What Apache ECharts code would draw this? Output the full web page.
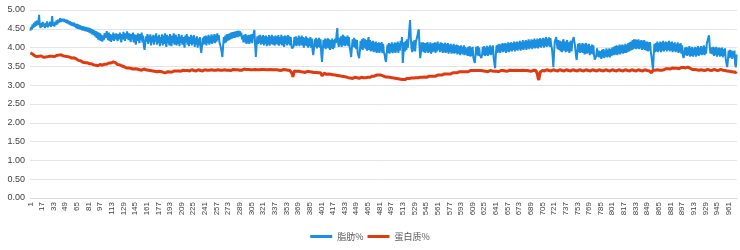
<!DOCTYPE html>
<html><head><meta charset="utf-8">
<script src="https://cdn.jsdelivr.net/npm/echarts@6/dist/echarts.min.js"></script>
<style>html,body{margin:0;padding:0;background:#fff}#c{width:740px;height:250px}</style>
</head><body><div id="c"></div>
<script>
const categories = Array.from({length: 972}, (_, i) => String(i + 1));
const yTicks = ['0.00','0.50','1.00','1.50','2.00','2.50','3.00','3.50','4.00','4.50','5.00'];
const seriesNames = ['脂肪%', '蛋白质%'];
const fat = [
4.45,4.55,4.48,4.62,4.52,4.66,4.55,4.70,4.58,4.72,4.60,4.68,4.87,4.60,4.52,4.65,4.55,4.68,4.57,4.64,
4.52,4.66,4.55,4.70,4.54,4.64,4.58,4.69,4.55,4.62,4.84,4.58,4.66,4.56,4.68,4.60,4.72,4.62,4.74,4.66,
4.72,4.78,4.68,4.76,4.79,4.70,4.77,4.68,4.75,4.66,4.74,4.64,4.72,4.62,4.70,4.60,4.68,4.58,4.67,4.57,
4.66,4.55,4.64,4.52,4.63,4.50,4.62,4.49,4.60,4.48,4.58,4.46,4.57,4.45,4.56,4.44,4.55,4.43,4.54,4.42,
4.53,4.40,4.52,4.38,4.50,4.35,4.48,4.33,4.46,4.30,4.44,4.26,4.42,4.22,4.40,4.20,4.38,4.18,4.34,4.16,
4.32,4.20,4.38,4.42,4.26,4.44,4.30,4.20,4.40,4.18,4.36,4.15,4.34,4.20,4.40,4.18,4.36,4.22,4.38,4.24,
4.18,4.36,4.22,4.40,4.25,4.14,4.36,4.22,4.42,4.26,4.18,4.38,4.24,4.43,4.28,4.20,4.38,4.26,4.15,4.36,
4.22,4.40,4.14,4.35,4.20,4.08,4.34,4.18,4.38,4.22,4.12,4.36,4.20,4.40,4.14,4.32,4.05,3.94,4.12,4.30,
4.16,4.36,4.10,4.32,4.14,4.35,4.06,4.30,4.14,4.34,4.08,4.32,4.16,4.38,4.08,4.30,4.12,4.34,4.04,4.28,
4.12,4.35,4.06,4.32,4.10,4.38,4.16,4.02,4.34,4.12,4.30,4.06,4.36,4.14,4.04,4.32,4.12,4.38,4.08,4.28,
4.34,4.06,4.28,4.10,4.36,4.04,4.30,4.12,4.34,4.08,4.28,4.12,4.00,4.32,4.14,4.36,4.08,4.30,4.04,4.28,
4.10,4.34,4.06,4.30,4.10,4.33,4.02,4.26,4.08,4.30,4.00,4.24,4.06,4.28,3.98,3.86,4.04,4.26,4.08,4.30,
4.10,4.32,4.06,4.30,4.12,4.34,4.08,4.30,4.12,4.35,4.10,4.32,4.14,4.36,4.12,4.34,4.16,4.38,4.20,4.33,
4.14,4.08,3.98,3.88,3.75,4.04,4.28,4.12,4.32,4.14,4.35,4.18,4.36,4.20,4.38,4.22,4.40,4.24,4.41,4.26,
4.42,4.26,4.43,4.28,4.44,4.28,4.45,4.30,4.44,4.30,4.40,4.22,4.32,4.14,4.34,4.14,4.36,4.10,4.32,4.12,
4.34,4.10,4.33,4.14,4.36,4.12,4.32,4.38,4.47,4.08,3.75,4.05,4.30,4.10,4.32,4.12,4.34,4.08,4.30,4.10,
4.33,4.06,4.30,4.10,4.32,4.04,4.28,4.08,4.33,4.05,4.30,4.10,4.34,4.08,4.30,4.12,4.06,4.32,4.10,4.30,
4.08,4.33,4.05,4.28,4.10,4.34,4.06,4.30,4.10,4.02,4.32,4.10,4.30,4.06,4.33,4.10,4.30,4.06,4.28,4.04,
3.98,3.94,4.04,4.28,4.06,4.30,4.04,4.26,4.08,4.32,4.04,4.28,4.08,4.32,4.05,4.28,4.00,4.26,4.06,4.30,
4.04,4.26,4.00,4.24,4.04,4.28,4.00,4.24,3.92,3.80,4.00,4.22,4.02,4.26,3.98,4.22,4.02,4.26,4.00,4.22,
3.82,3.62,3.94,4.20,4.00,4.24,3.96,4.22,4.00,4.25,3.98,4.22,3.94,4.20,3.98,4.24,3.96,4.20,4.00,4.24,
4.12,4.36,4.52,4.14,4.02,4.26,4.06,4.30,4.02,4.28,4.34,4.06,4.30,4.04,4.28,4.08,4.32,4.04,4.28,4.02,
3.90,3.75,3.98,4.22,4.02,4.26,4.00,4.22,3.96,4.20,3.86,3.82,3.72,3.90,4.18,3.96,4.22,3.94,4.25,4.00,
4.22,3.96,4.20,3.92,4.18,4.28,3.94,4.20,3.90,4.16,3.92,4.18,3.88,4.14,3.90,4.16,3.86,4.12,3.88,4.14,
3.86,4.12,3.90,4.15,3.85,4.10,3.88,3.82,3.68,3.62,3.86,4.08,3.86,4.12,3.84,4.10,3.88,4.14,3.85,4.10,
3.88,4.14,3.86,4.12,3.90,4.16,3.86,4.12,3.92,4.18,4.08,4.28,3.59,3.86,4.14,3.90,4.18,3.94,4.22,4.00,
4.24,4.48,4.73,4.26,3.98,3.88,4.16,3.92,4.20,3.90,4.14,4.22,4.30,4.42,4.49,4.04,3.72,3.88,4.14,3.90,
4.14,3.88,4.12,3.86,4.12,3.90,4.15,3.86,4.10,3.88,4.14,3.84,4.10,3.88,4.12,3.90,4.14,3.86,4.12,3.90,
4.16,3.94,4.10,3.88,4.14,3.90,4.12,3.86,4.10,3.88,4.13,3.86,4.10,3.88,4.12,3.84,4.08,3.88,4.10,3.84,
4.06,3.86,4.10,3.84,4.06,3.86,4.08,3.82,4.06,3.84,4.04,3.80,4.06,3.84,4.02,3.82,4.06,3.80,4.02,3.82,
3.98,3.78,4.02,3.78,4.04,3.76,4.00,3.78,4.02,3.74,3.70,3.59,3.80,4.02,3.80,4.04,3.78,4.00,3.80,3.76,
3.72,3.80,4.02,3.80,4.04,3.78,4.00,3.80,4.05,3.78,4.02,3.82,4.06,3.80,4.03,3.82,4.06,3.72,3.58,3.45,
3.84,4.06,3.86,4.08,3.88,4.10,3.86,4.08,3.90,4.12,3.88,4.10,3.90,4.12,3.86,4.10,3.90,4.14,3.88,4.12,
3.92,4.14,3.90,4.12,3.94,4.16,3.90,4.14,3.94,4.16,3.92,4.14,3.96,4.18,3.92,4.15,3.96,4.20,3.94,4.16,
3.98,4.20,3.94,4.18,3.98,4.22,3.96,4.18,4.00,4.22,3.96,4.20,4.00,4.24,3.98,4.20,4.00,4.24,3.98,4.22,
4.02,4.25,4.00,4.22,4.04,4.26,4.00,4.24,4.04,4.28,4.02,4.24,4.06,4.27,4.02,4.25,4.08,3.98,3.78,3.48,
3.86,4.16,4.22,4.28,4.08,3.96,4.20,3.94,4.18,3.90,4.16,3.88,4.14,4.22,3.92,4.16,3.88,4.12,4.20,3.90,
4.14,3.86,4.12,4.18,3.90,4.14,4.22,4.28,4.33,4.02,3.82,3.67,3.86,4.10,3.88,4.12,3.86,4.08,3.88,4.12,
3.86,4.10,3.82,4.06,4.12,3.84,4.08,3.86,4.10,3.80,4.04,3.84,4.08,3.82,4.06,3.80,3.68,3.67,3.78,3.98,
3.76,3.92,3.74,3.90,3.82,3.70,3.94,3.74,3.96,3.72,3.92,3.76,3.98,3.74,3.94,3.76,3.98,3.74,3.96,3.78,
4.00,3.80,4.02,3.80,4.04,3.82,4.06,3.80,4.04,3.84,4.08,3.82,4.06,3.86,4.08,3.84,4.06,3.86,4.10,3.86,
4.08,3.88,4.12,3.90,4.14,3.92,4.16,3.94,4.20,3.96,4.22,3.98,4.22,3.96,4.20,3.98,4.22,3.96,4.18,3.98,
4.20,3.94,4.18,3.96,4.20,3.94,4.16,3.92,4.16,3.90,4.14,3.92,4.15,3.88,3.76,3.58,3.40,3.80,4.10,3.88,
4.12,3.90,4.16,3.88,4.12,3.92,4.16,3.88,4.14,3.92,4.18,3.90,4.14,3.94,4.16,3.90,4.14,3.94,4.18,3.90,
4.14,3.92,4.16,3.88,4.12,3.92,4.14,3.88,4.10,3.90,4.14,3.86,4.10,3.88,4.12,3.84,4.06,3.80,3.72,3.80,
4.00,3.80,4.02,3.78,4.00,3.80,4.04,3.76,4.00,3.78,4.02,3.76,3.98,3.80,4.02,3.76,4.00,3.80,4.04,3.78,
4.00,3.82,4.04,3.80,4.02,3.82,4.06,3.80,4.02,3.84,4.10,4.18,4.26,4.33,4.04,3.84,3.80,4.00,3.82,4.02,
3.78,4.00,3.80,4.02,3.76,3.98,3.80,4.00,3.76,3.98,3.78,4.00,3.74,3.96,3.78,3.98,3.70,3.58,3.48,3.66,
3.92,3.72,3.94,3.74,3.92,3.70,3.90,3.74,3.92,3.55,3.48,3.82
];
const protein = [
3.86,3.84,3.82,3.83,3.80,3.79,3.78,3.80,3.77,3.76,3.78,3.75,3.77,3.74,3.76,3.78,3.75,3.77,3.74,3.76,
3.78,3.75,3.77,3.74,3.76,3.78,3.75,3.77,3.76,3.74,3.77,3.75,3.78,3.76,3.74,3.77,3.79,3.76,3.78,3.80,
3.77,3.79,3.81,3.78,3.80,3.78,3.76,3.79,3.77,3.75,3.78,3.76,3.74,3.77,3.75,3.73,3.75,3.72,3.74,3.72,
3.73,3.71,3.72,3.70,3.68,3.69,3.66,3.67,3.64,3.65,3.63,3.64,3.61,3.63,3.62,3.60,3.61,3.59,3.60,3.58,
3.59,3.57,3.58,3.56,3.57,3.55,3.56,3.54,3.56,3.55,3.53,3.55,3.54,3.52,3.54,3.53,3.55,3.52,3.54,3.53,
3.55,3.54,3.56,3.55,3.57,3.56,3.58,3.57,3.59,3.58,3.60,3.59,3.61,3.60,3.62,3.61,3.63,3.60,3.58,3.57,
3.55,3.56,3.53,3.54,3.52,3.50,3.51,3.49,3.48,3.49,3.47,3.48,3.46,3.47,3.45,3.46,3.44,3.46,3.45,3.44,
3.45,3.43,3.44,3.42,3.44,3.43,3.41,3.43,3.42,3.44,3.41,3.43,3.42,3.40,3.42,3.41,3.43,3.40,3.42,3.41,
3.39,3.41,3.40,3.38,3.40,3.39,3.37,3.39,3.38,3.36,3.38,3.37,3.35,3.37,3.36,3.38,3.35,3.37,3.36,3.34,
3.36,3.35,3.37,3.34,3.36,3.35,3.33,3.35,3.34,3.36,3.35,3.33,3.35,3.34,3.36,3.35,3.37,3.36,3.38,3.37,
3.36,3.38,3.37,3.39,3.38,3.36,3.38,3.37,3.39,3.38,3.40,3.38,3.37,3.39,3.38,3.40,3.39,3.37,3.39,3.38,
3.40,3.39,3.41,3.38,3.40,3.39,3.41,3.40,3.38,3.40,3.39,3.41,3.40,3.42,3.39,3.41,3.40,3.38,3.40,3.39,
3.41,3.40,3.38,3.40,3.39,3.41,3.40,3.42,3.39,3.41,3.40,3.38,3.40,3.39,3.41,3.40,3.42,3.39,3.41,3.40,
3.38,3.40,3.39,3.41,3.40,3.42,3.39,3.41,3.40,3.38,3.40,3.39,3.41,3.40,3.42,3.40,3.39,3.41,3.40,3.42,
3.41,3.39,3.41,3.40,3.42,3.41,3.39,3.41,3.40,3.42,3.41,3.40,3.42,3.41,3.43,3.41,3.40,3.42,3.41,3.40,
3.42,3.41,3.39,3.41,3.40,3.42,3.41,3.43,3.40,3.42,3.41,3.39,3.41,3.40,3.42,3.41,3.43,3.40,3.42,3.41,
3.40,3.42,3.41,3.39,3.41,3.40,3.42,3.41,3.43,3.40,3.42,3.41,3.39,3.41,3.40,3.42,3.41,3.40,3.42,3.41,
3.39,3.41,3.40,3.42,3.41,3.39,3.41,3.40,3.42,3.40,3.39,3.41,3.40,3.38,3.40,3.39,3.41,3.39,3.38,3.36,
3.30,3.22,3.32,3.38,3.37,3.39,3.37,3.36,3.38,3.37,3.35,3.37,3.36,3.38,3.36,3.35,3.37,3.36,3.34,3.36,
3.35,3.37,3.35,3.34,3.36,3.35,3.33,3.35,3.34,3.36,3.34,3.33,3.35,3.34,3.36,3.35,3.33,3.35,3.34,3.33,
3.30,3.25,3.20,3.28,3.32,3.30,3.31,3.29,3.30,3.28,3.30,3.29,3.27,3.29,3.28,3.26,3.28,3.27,3.25,3.27,
3.26,3.24,3.26,3.25,3.23,3.25,3.24,3.22,3.24,3.23,3.21,3.23,3.22,3.20,3.22,3.21,3.23,3.20,3.22,3.21,
3.19,3.21,3.20,3.18,3.20,3.19,3.21,3.20,3.18,3.20,3.19,3.21,3.18,3.20,3.19,3.21,3.20,3.18,3.20,3.19,
3.21,3.20,3.22,3.19,3.21,3.20,3.22,3.21,3.23,3.22,3.24,3.23,3.25,3.24,3.26,3.25,3.27,3.26,3.25,3.27,
3.26,3.25,3.27,3.26,3.24,3.25,3.23,3.24,3.22,3.23,3.21,3.22,3.20,3.22,3.21,3.19,3.21,3.20,3.18,3.20,
3.19,3.17,3.19,3.18,3.16,3.18,3.17,3.15,3.17,3.16,3.14,3.16,3.15,3.17,3.16,3.15,3.17,3.16,3.18,3.17,
3.19,3.18,3.20,3.17,3.19,3.18,3.20,3.19,3.21,3.18,3.20,3.19,3.21,3.20,3.22,3.19,3.21,3.20,3.22,3.21,
3.23,3.21,3.22,3.20,3.22,3.21,3.23,3.22,3.24,3.23,3.22,3.24,3.23,3.25,3.24,3.26,3.25,3.24,3.26,3.25,
3.27,3.26,3.28,3.27,3.26,3.28,3.27,3.29,3.28,3.30,3.29,3.28,3.30,3.29,3.31,3.30,3.32,3.31,3.30,3.32,
3.31,3.33,3.32,3.34,3.33,3.32,3.34,3.33,3.35,3.34,3.36,3.35,3.34,3.36,3.35,3.37,3.36,3.35,3.37,3.36,
3.38,3.37,3.36,3.38,3.37,3.39,3.38,3.37,3.39,3.38,3.40,3.39,3.38,3.40,3.39,3.41,3.40,3.39,3.41,3.40,
3.39,3.41,3.40,3.38,3.40,3.39,3.37,3.39,3.38,3.36,3.38,3.37,3.39,3.38,3.36,3.38,3.37,3.35,3.37,3.36,
3.38,3.37,3.39,3.38,3.36,3.38,3.37,3.39,3.38,3.40,3.39,3.37,3.39,3.38,3.40,3.39,3.37,3.39,3.38,3.40,
3.39,3.37,3.39,3.38,3.40,3.39,3.41,3.38,3.40,3.39,3.37,3.39,3.38,3.40,3.39,3.41,3.38,3.40,3.39,3.37,
3.39,3.38,3.40,3.39,3.37,3.39,3.38,3.40,3.38,3.37,3.39,3.38,3.40,3.39,3.37,3.39,3.38,3.30,3.20,3.14,
3.25,3.35,3.38,3.40,3.39,3.37,3.39,3.38,3.40,3.39,3.41,3.38,3.40,3.39,3.37,3.39,3.38,3.40,3.39,3.41,
3.38,3.40,3.39,3.41,3.40,3.38,3.40,3.39,3.41,3.40,3.42,3.39,3.41,3.40,3.38,3.40,3.39,3.41,3.40,3.42,
3.39,3.41,3.40,3.38,3.40,3.39,3.41,3.40,3.42,3.39,3.41,3.40,3.38,3.40,3.39,3.41,3.40,3.42,3.39,3.41,
3.40,3.38,3.40,3.39,3.41,3.40,3.42,3.39,3.41,3.40,3.38,3.40,3.39,3.41,3.40,3.42,3.39,3.41,3.40,3.38,
3.40,3.39,3.41,3.40,3.42,3.39,3.41,3.40,3.38,3.40,3.39,3.41,3.40,3.42,3.39,3.41,3.40,3.38,3.40,3.39,
3.41,3.40,3.42,3.39,3.41,3.40,3.38,3.40,3.39,3.41,3.40,3.42,3.39,3.41,3.40,3.38,3.40,3.39,3.41,3.40,
3.42,3.39,3.41,3.40,3.38,3.40,3.39,3.41,3.40,3.42,3.39,3.41,3.40,3.38,3.40,3.39,3.41,3.40,3.42,3.39,
3.41,3.40,3.38,3.40,3.39,3.41,3.40,3.42,3.39,3.41,3.40,3.38,3.40,3.36,3.33,3.38,3.40,3.39,3.41,3.40,
3.42,3.39,3.41,3.40,3.38,3.40,3.39,3.41,3.40,3.42,3.39,3.41,3.43,3.42,3.44,3.43,3.45,3.44,3.42,3.44,
3.43,3.45,3.44,3.46,3.45,3.43,3.45,3.44,3.46,3.45,3.47,3.46,3.44,3.46,3.45,3.47,3.46,3.48,3.47,3.45,
3.47,3.46,3.48,3.47,3.48,3.46,3.44,3.45,3.43,3.44,3.42,3.43,3.41,3.42,3.40,3.42,3.41,3.39,3.41,3.40,
3.42,3.40,3.41,3.39,3.41,3.40,3.42,3.41,3.39,3.41,3.40,3.42,3.41,3.43,3.40,3.42,3.41,3.39,3.41,3.40,
3.42,3.41,3.43,3.40,3.42,3.41,3.39,3.41,3.40,3.42,3.41,3.43,3.40,3.42,3.41,3.39,3.41,3.40,3.38,3.40,
3.39,3.37,3.39,3.38,3.36,3.38,3.37,3.35,3.37,3.36,3.34,3.36
];
const chart = echarts.init(document.getElementById('c'), null, {renderer: 'canvas'});
chart.setOption({
  animation: false,
  backgroundColor: '#fff',
  grid: {left: 30, right: 3, top: 10, bottom: 52},
  legend: {
    bottom: 4, left: 'center', itemGap: 4, itemWidth: 22, itemHeight: 3,
    icon: 'rect',
    textStyle: {fontSize: 9, color: '#595959', fontFamily: 'Noto Sans CJK SC'},
    data: seriesNames
  },
  xAxis: {
    type: 'category', data: categories, boundaryGap: true,
    axisLine: {lineStyle: {color: '#d9d9d9'}},
    axisTick: {show: false},
    axisLabel: {interval: 15, rotate: 90, fontSize: 8, color: '#404040', margin: 4, fontFamily: 'Liberation Sans'}
  },
  yAxis: {
    type: 'value', min: 0, max: 5, interval: 0.5,
    axisLine: {show: false}, axisTick: {show: false},
    splitLine: {lineStyle: {color: '#e4e4e4'}},
    axisLabel: {fontSize: 9, color: '#404040', margin: 5, fontFamily: 'Liberation Sans',
      formatter: v => yTicks[Math.round(v / 0.5)]}
  },
  series: [
    {name: seriesNames[0], type: 'line', data: fat, symbol: 'none', lineStyle: {width: 2, color: '#1a8fe0'}, itemStyle: {color: '#1a8fe0'}},
    {name: seriesNames[1], type: 'line', data: protein, symbol: 'none', lineStyle: {width: 3, color: '#e03a10'}, itemStyle: {color: '#e03a10'}}
  ]
});
</script></body></html>
